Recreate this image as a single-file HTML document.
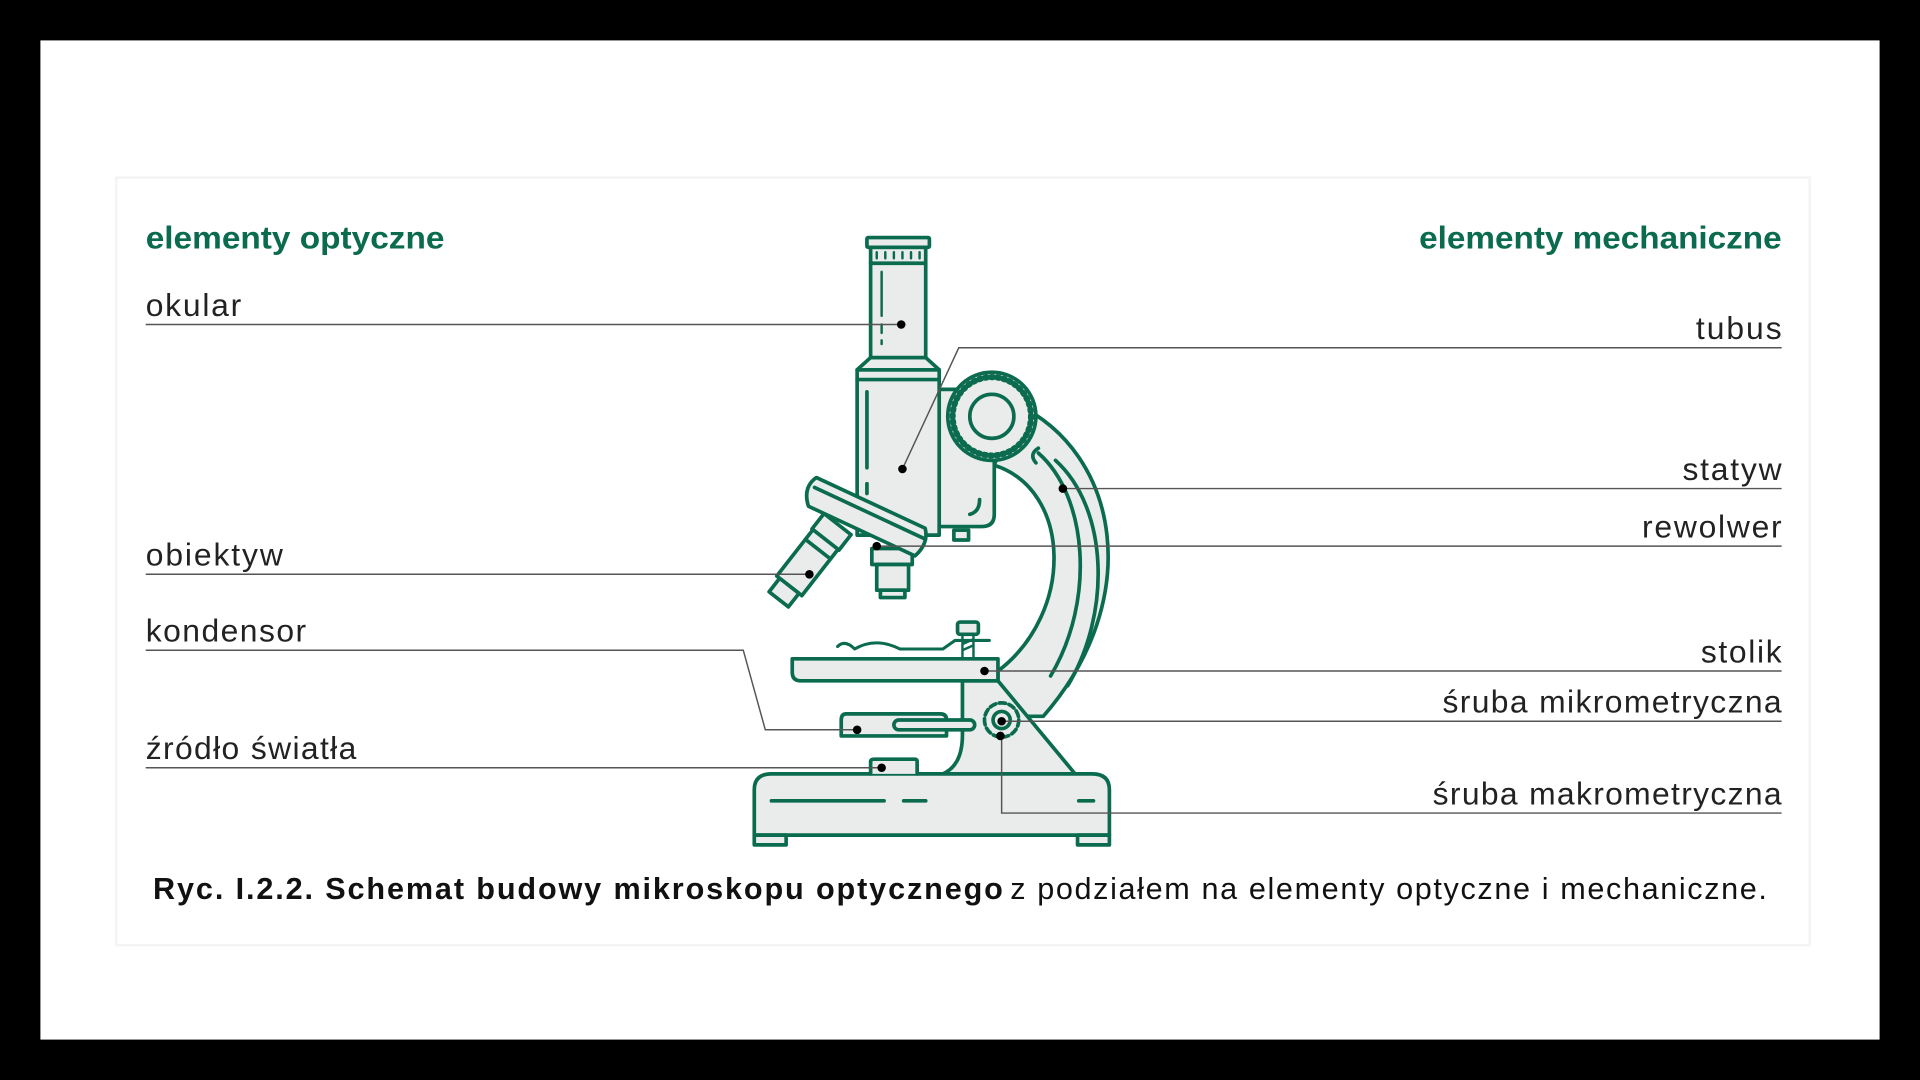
<!DOCTYPE html>
<html><head><meta charset="utf-8"><style>
html,body{margin:0;padding:0;background:#000;}
svg{display:block}
text{font-family:"Liberation Sans",sans-serif;}
</style></head><body>
<svg width="1920" height="1080" viewBox="0 0 1568 882" xmlns="http://www.w3.org/2000/svg">
<rect x="0" y="0" width="1568" height="882" fill="#000"/>
<rect x="33" y="33" width="1502" height="816" fill="#fff"/>
<rect x="95" y="145" width="1383" height="627" fill="#fff" stroke="#f4f4f4" stroke-width="2"/>
<g fill="#0b6b4f" font-size="26" font-weight="bold">
<text x="119" y="203" textLength="244" lengthAdjust="spacingAndGlyphs">elementy optyczne</text>
<text x="1159" y="203" textLength="296" lengthAdjust="spacingAndGlyphs">elementy mechaniczne</text>
</g>
<g fill="#222" font-size="26">
<text x="119" y="258" textLength="78">okular</text>
<text x="119" y="462" textLength="112">obiektyw</text>
<text x="119" y="524" textLength="131">kondensor</text>
<text x="119" y="620" textLength="172">źródło światła</text>
<text x="1385" y="277" textLength="70">tubus</text>
<text x="1374" y="392" textLength="81">statyw</text>
<text x="1341" y="439" textLength="114">rewolwer</text>
<text x="1389" y="541" textLength="66">stolik</text>
<text x="1178" y="582" textLength="277">śruba mikrometryczna</text>
<text x="1170" y="657" textLength="285">śruba makrometryczna</text>
</g>
<g stroke="#0b6b4f" stroke-width="3" fill="#e9ecea" stroke-linejoin="round" stroke-linecap="round">
<path d="M830 330 C915 370 935 490 852 585 L815 585 L815 548 C878 500 875 400 812 380 Z"/>
<path d="M848 370 C888 405 895 490 858 552" fill="none"/>
<path d="M862 376 C905 415 908 500 872 560" fill="none"/>
<path d="M848 366 q-8 5 -2 12" fill="none"/>
<path d="M786 556 L815 556 L878 632 L770 632 Q786 625 786 600 Z"/>
<path d="M616 682 L616 645 Q616 632 630 632 L892 632 Q906 632 906 645 L906 682 Z"/>
<rect x="616" y="682" width="26" height="8"/>
<rect x="880" y="682" width="26" height="8"/>
<path d="M630 654 L722 654 M738 654 L756 654 M881 654 L893 654" fill="none"/>
<path d="M711 632 L711 622 Q711 620 714 620 L747 620 Q749 620 749 622 L749 632"/>
<path d="M691 583 L768 583 Q773 583 773 588 L773 601 L687 601 L687 588 Q687 583 691 583 Z"/>
<rect x="730" y="588" width="66" height="8" rx="4"/>
<path d="M652 538 L815 538 L815 556 L654 556 Q647 556 647 549 L647 538 Z"/>
<path d="M684 528 Q690 522 698 530 Q715 520 735 530 L770 530 L780 523 L808 523" fill="none" stroke-width="2.5"/>
<rect x="782" y="508" width="17" height="10" rx="2"/>
<path d="M786 518 L786 538 M795 518 L795 538 M786 526 L795 522 M786 531 L795 527" fill="none" stroke-width="2"/>
<circle cx="818" cy="588" r="14" stroke-dasharray="5 3"/>
<circle cx="818" cy="588" r="7" fill="#e9ecea"/>
<path d="M767 318 L812 318 L812 420 Q812 430 802 430 L767 430 Z"/>
<path d="M800 408 q0 10 -8 12" fill="none"/>
<rect x="779" y="433" width="12" height="8"/>
<circle cx="810" cy="340" r="36"/>
<circle cx="810" cy="340" r="32" fill="none" stroke-width="5" stroke-dasharray="1.5 3.5"/>
<circle cx="810" cy="340" r="18"/>
<rect x="700" y="302" width="67" height="135"/>
<path d="M700 310 L767 310 M708 320 L708 382 M708 395 L708 403" fill="none"/>
<path d="M711 292 L756 292 L767 302 L700 302 Z"/>
<rect x="711" y="202" width="45" height="90"/>
<rect x="708" y="194" width="51" height="8" rx="1"/>
<path d="M711 215 L756 215" fill="none"/>
<path d="M716 206 L716 211 M723 206 L723 211 M730 206 L730 211 M737 206 L737 211 M744 206 L744 211 M751 206 L751 211" fill="none" stroke-width="2"/>
<path d="M720 222 L720 258 M720 265 L720 272 M720 278 L720 281" fill="none" stroke-width="2"/>
<rect x="712" y="448" width="33" height="13"/>
<rect x="716" y="461" width="26" height="21"/>
<rect x="719" y="482" width="20" height="6"/>
<g transform="translate(684 428) rotate(38)">
<rect x="-14" y="0" width="28" height="16"/>
<rect x="-13" y="16" width="26" height="48"/>
<rect x="-10" y="64" width="20" height="14"/>
<path d="M-13 26 L13 26" fill="none"/>
</g>
<g transform="translate(707 422) rotate(25)">
<path d="M-50 -12 L48 -12 Q56 -2 50 12 L-46 12 Q-57 0 -50 -12 Z"/>
<path d="M-48 -4 L52 -4" fill="none"/>
</g>
</g>
<g stroke="#555" stroke-width="1.2" fill="none">
<path d="M119 265 L736 265"/>
<path d="M119 469 L661 469"/>
<path d="M119 531 L607 531 L625 596 L700 596"/>
<path d="M119 627 L720 627"/>
<path d="M1455 284 L783 284 L737 383"/>
<path d="M1455 399 L868 399"/>
<path d="M1455 446 L716 446"/>
<path d="M1455 548 L804 548"/>
<path d="M1455 589 L818 589"/>
<path d="M1455 664 L818 664 L818 601"/>
</g>
<g fill="#000">
<circle cx="736" cy="265" r="3.5"/><circle cx="661" cy="469" r="3.5"/><circle cx="700" cy="596" r="3.5"/>
<circle cx="720" cy="627" r="3.5"/><circle cx="737" cy="383" r="3.5"/><circle cx="868" cy="399" r="3.5"/>
<circle cx="716" cy="446" r="3.5"/><circle cx="804" cy="548" r="3.5"/><circle cx="818" cy="589" r="3.5"/>
<circle cx="817" cy="601" r="3.5"/>
</g>
<text y="734" font-size="25" fill="#111"><tspan x="125" font-weight="bold" textLength="694">Ryc. I.2.2. Schemat budowy mikroskopu optycznego</tspan><tspan x="825" textLength="618">z podziałem na elementy optyczne i mechaniczne.</tspan></text>
</svg>
</body></html>
